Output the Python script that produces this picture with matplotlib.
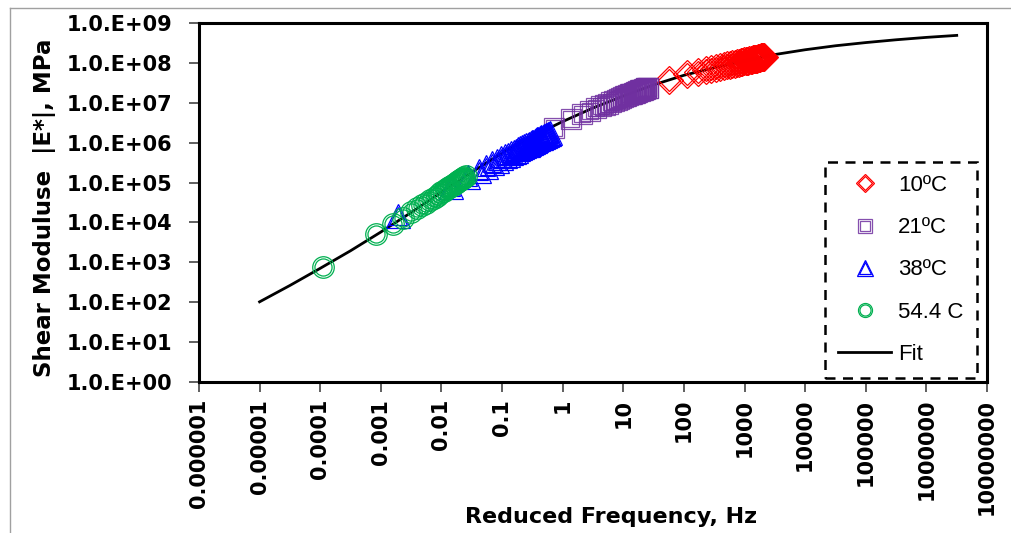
import numpy as np
import matplotlib
matplotlib.use("Agg")
import matplotlib.pyplot as plt
from matplotlib.lines import Line2D
from matplotlib.ticker import FixedLocator, NullLocator

# master curve data, stored as log10 values
# log10(reduced frequency, Hz) and log10(|E*|, MPa) per test temperature
logf_10c = [1.76, 2.05, 2.23, 2.36, 2.45, 2.53, 2.60, 2.66, 2.71, 2.76, 2.80, 2.84,
            2.87, 2.91, 2.94, 2.96, 2.99, 3.02, 3.04, 3.06, 3.08, 3.10, 3.12, 3.14,
            3.16, 3.18, 3.19, 3.21, 3.22, 3.24, 3.25, 3.27, 3.28, 3.29, 3.31, 3.32]
logE_10c = [7.57, 7.71, 7.77, 7.82, 7.85, 7.88, 7.90, 7.92, 7.94, 7.96, 7.97, 7.98,
            7.99, 8.01, 8.02, 8.03, 8.04, 8.05, 8.05, 8.06, 8.07, 8.08, 8.08, 8.09,
            8.10, 8.10, 8.11, 8.11, 8.12, 8.13, 8.13, 8.14, 8.14, 8.15, 8.15, 8.16]

logf_21c = [-0.15, 0.14, 0.32, 0.45, 0.55, 0.63, 0.70, 0.75, 0.80, 0.85, 0.89, 0.93,
            0.96, 1.00, 1.03, 1.05, 1.08, 1.11, 1.13, 1.15, 1.17, 1.19, 1.21, 1.23,
            1.25, 1.27, 1.28, 1.30, 1.31, 1.33, 1.34, 1.36, 1.37, 1.38, 1.40, 1.41]
logE_21c = [6.37, 6.59, 6.71, 6.80, 6.86, 6.91, 6.95, 6.98, 7.01, 7.04, 7.07, 7.09,
            7.11, 7.14, 7.16, 7.17, 7.19, 7.21, 7.22, 7.23, 7.24, 7.25, 7.27, 7.28,
            7.29, 7.30, 7.31, 7.32, 7.32, 7.33, 7.34, 7.35, 7.36, 7.36, 7.37, 7.38]

logf_38c = [-2.71, -1.84, -1.56, -1.38, -1.26, -1.16, -1.08, -1.01, -0.95, -0.90,
            -0.85, -0.81, -0.77, -0.73, -0.70, -0.67, -0.64, -0.61, -0.58, -0.56,
            -0.53, -0.51, -0.49, -0.46, -0.44, -0.42, -0.40, -0.38, -0.36, -0.35,
            -0.33, -0.31, -0.29, -0.27, -0.26, -0.24, -0.22, -0.21]
logE_38c = [4.17, 4.88, 5.13, 5.30, 5.40, 5.48, 5.55, 5.61, 5.66, 5.70,
            5.74, 5.77, 5.80, 5.83, 5.86, 5.88, 5.91, 5.93, 5.95, 5.97,
            5.99, 6.01, 6.02, 6.05, 6.06, 6.08, 6.09, 6.11, 6.12, 6.13,
            6.15, 6.16, 6.18, 6.19, 6.20, 6.21, 6.23, 6.24]

logf_54c = [-3.95, -3.08, -2.80, -2.63, -2.50, -2.40, -2.32, -2.25, -2.19, -2.13,
            -2.08, -2.04, -2.00, -1.96, -1.93, -1.90, -1.87, -1.84, -1.81, -1.79,
            -1.76, -1.74, -1.72, -1.70, -1.68, -1.66, -1.64, -1.62, -1.60]
logE_54c = [2.88, 3.70, 3.96, 4.12, 4.25, 4.35, 4.43, 4.50, 4.56, 4.62,
            4.67, 4.72, 4.76, 4.80, 4.83, 4.86, 4.89, 4.92, 4.95, 4.97,
            5.00, 5.02, 5.04, 5.06, 5.08, 5.10, 5.12, 5.14, 5.16]

# sigmoidal fit
fit_logf = [-5.0, -4.5, -4.0, -3.5, -3.0, -2.5, -2.0, -1.5, -1.0, -0.5, 0.0, 0.5,
            1.0, 1.5, 2.0, 2.5, 3.0, 3.5, 4.0, 4.5, 5.0, 5.5, 6.0, 6.5]
fit_logE = [2.01, 2.42, 2.85, 3.29, 3.76, 4.25, 4.76, 5.26, 5.74, 6.16, 6.53, 6.87,
            7.17, 7.45, 7.69, 7.88, 8.05, 8.21, 8.33, 8.43, 8.51, 8.58, 8.64, 8.69]

series_labels = ["10ºC", "21ºC", "38ºC", "54.4 C"]
xtick_labels = ["0.000001", "0.00001", "0.0001", "0.001", "0.01", "0.1", "1", "10",
                "100", "1000", "10000", "100000", "1000000", "10000000"]
ytick_labels = ["1.0.E+00", "1.0.E+01", "1.0.E+02", "1.0.E+03", "1.0.E+04",
                "1.0.E+05", "1.0.E+06", "1.0.E+07", "1.0.E+08", "1.0.E+09"]


def draw_series(ax, logf, logE, marker, color, size, shrink, alpha=1.0):
    # hollow markers with a double outline
    f = np.power(10.0, logf)
    E = np.power(10.0, logE)
    outer, = ax.plot(f, E, ls="none", marker=marker, ms=size, mfc="none",
                     mec=color, mew=0.9, alpha=alpha, zorder=3)
    inner, = ax.plot(f, E, ls="none", marker=marker, ms=size - shrink, mfc="none",
                     mec=color, mew=0.9, alpha=alpha, zorder=3)
    return (outer, inner)


fig = plt.figure(figsize=(10.11, 5.33), dpi=100)
ax = fig.add_axes([0.1968, 0.2833, 0.7795, 0.6735])

fit_line, = ax.plot(np.power(10.0, fit_logf), np.power(10.0, fit_logE),
                    color="black", lw=2, zorder=2)

h10 = draw_series(ax, logf_10c, logE_10c, "D", "#FF0000", 14.5, 2.8)
h21 = draw_series(ax, logf_21c, logE_21c, "s", "#7030A0", 15.0, 3.2, alpha=0.85)
h38 = draw_series(ax, logf_38c, logE_38c, "^", "#0000FF", 17.0, 4.0)
h54 = draw_series(ax, logf_54c, logE_54c, "o", "#00B050", 15.5, 3.2)

ax.set_xscale("log")
ax.set_yscale("log")
ax.set_xlim(1e-6, 1e7)
ax.set_ylim(1e0, 1e9)

ax.xaxis.set_major_locator(FixedLocator(np.power(10.0, np.arange(-6, 8))))
ax.xaxis.set_minor_locator(NullLocator())
ax.set_xticklabels(xtick_labels, rotation=90, fontsize=15, fontweight="bold")
ax.yaxis.set_major_locator(FixedLocator(np.power(10.0, np.arange(0, 10))))
ax.yaxis.set_minor_locator(NullLocator())
ax.set_yticklabels(ytick_labels, fontsize=15, fontweight="bold")
ax.tick_params(axis="both", direction="out", length=7, width=1.2, color="#444444")
ax.tick_params(axis="x", pad=5)
ax.tick_params(axis="y", pad=12)

for sp in ax.spines.values():
    sp.set_linewidth(2.2)

# axis titles sit in fixed spots, the x title beside the long tick labels
ax.set_xlabel("Reduced Frequency, Hz", fontsize=16, fontweight="bold")
ax.xaxis.set_label_coords(0.523, -0.348)
ax.set_ylabel("Shear Moduluse  |E*|, MPa", fontsize=16.5, fontweight="bold")
ax.yaxis.set_label_coords(-0.182, 0.485)

leg = ax.legend([h10, h21, h38, h54, fit_line], series_labels + ["Fit"],
                loc="lower right", bbox_to_anchor=(0.987, 0.011), borderaxespad=0,
                markerscale=0.65, handlelength=2.4, handletextpad=0.3,
                labelspacing=0.95, borderpad=0.6, fancybox=False, framealpha=1,
                prop={"family": "Liberation Sans", "size": 16})
frame = leg.get_frame()
frame.set_edgecolor("black")
frame.set_linewidth(1.8)
frame.set_linestyle((0, (4, 3)))

# thin grey border around the chart area
fig.add_artist(Line2D([10 / 1011, 1], [1 - 7.5 / 533, 1 - 7.5 / 533],
                      color="#A0A0A0", lw=1))
fig.add_artist(Line2D([10 / 1011, 10 / 1011], [0, 1 - 7.5 / 533],
                      color="#A0A0A0", lw=1))

fig.savefig("out.png", dpi=100)
